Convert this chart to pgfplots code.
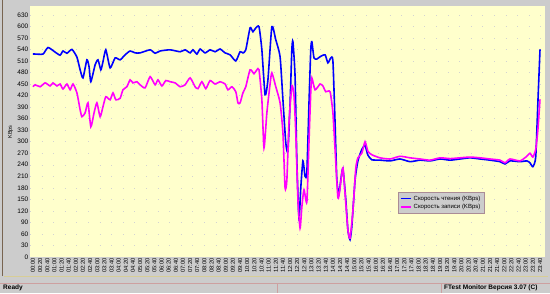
\documentclass[border=0pt]{standalone}
\usepackage{pgfplots}
\pgfplotsset{compat=1.18}
\usepackage{fontspec}
\setmainfont{Liberation Sans}
\definecolor{winbg}{RGB}{204,204,204}
\definecolor{plotbg}{RGB}{255,255,204}
\definecolor{rd}{RGB}{0,0,255}
\definecolor{wr}{RGB}{255,0,255}
\begin{document}
\begin{tikzpicture}[x=1pt,y=1pt]
\fill[winbg] (0pt,0pt) rectangle (550pt,293pt);
\draw[color={rgb,255:red,120;green,100;blue,80}, line width=1pt] (2.5pt,17pt) -- (2.5pt,293pt);
\draw[color={rgb,255:red,215;green,205;blue,150}, line width=0.8pt] (4pt,17pt) -- (548pt,17pt);
\draw[color={rgb,255:red,205;green,160;blue,160}, line width=0.6pt] (0pt,10pt) -- (550pt,10pt);
\draw[color={rgb,255:red,205;green,160;blue,160}, line width=0.6pt] (277pt,0pt) -- (277pt,10pt) (441pt,0pt) -- (441pt,10pt);
\begin{axis}[
  at={(30pt,36pt)}, anchor=south west, scale only axis,
  width=515pt, height=251pt,
  xmin=-8.4, xmax=1434, ymin=0, ymax=653,
  axis background/.style={fill=plotbg},
  axis line style={draw=none},
  major tick length=0pt,
  ymajorgrids, grid style={color=gray!35, line width=0.5pt, dash pattern=on 0.6pt off 11pt},
  ytick={0,30,...,630},
  /pgf/number format/assume math mode=true,
  yticklabel style={font=\fontsize{6.5}{7}\selectfont, inner sep=1.5pt},
  xtick={0,20,...,1420},
  xticklabels={00:00,00:20,00:40,01:00,01:20,01:40,02:00,02:20,02:40,03:00,03:20,03:40,04:00,04:20,04:40,05:00,05:20,05:40,06:00,06:20,06:40,07:00,07:20,07:40,08:00,08:20,08:40,09:00,09:20,09:40,10:00,10:20,10:40,11:00,11:20,11:40,12:00,12:20,12:40,13:00,13:20,13:40,14:00,14:20,14:40,15:00,15:20,15:40,16:00,16:20,16:40,17:00,17:20,17:40,18:00,18:20,18:40,19:00,19:20,19:40,20:00,20:20,20:40,21:00,21:20,21:40,22:00,22:20,22:40,23:00,23:20,23:40},
  xticklabel style={rotate=90, anchor=east, font=\fontsize{5.8}{6}\selectfont, inner sep=1pt},
  legend style={at={(0.7146,0.259)}, anchor=north west, fill=winbg, draw={rgb,255:red,170;green,140;blue,150},
    font=\fontsize{6}{6.5}\selectfont, inner xsep=2pt, inner ysep=1.5pt, row sep=-1.5pt, cells={anchor=west}},
  legend image code/.code={\draw[#1, line width=1.5pt] (0pt,0pt) -- (10pt,0pt);},
  clip=true,
]
\addplot[rd, line width=1.6pt, smooth, tension=0.35] coordinates {
(0,528)(6,528)(28,528)(42,545)(62,533)(76,525)(84,536)(95,530)(109,540)(123,520)
(132,487)(140,466)(151,513)(157,495)(162,456)(174,500)(182,513)(190,487)(196,508)(204,539)
(216,492)(230,518)(244,513)(258,526)(272,536)(286,531)(300,531)(328,539)(342,530)(356,536)
(384,539)(412,534)(426,539)(440,531)(448,539)(459,528)(468,541)(482,531)(496,539)(510,534)
(524,541)(538,531)(552,526)(568,510)(580,534)(588,531)(596,539)(608,596)(616,586)(624,596)
(633,599)(641,539)(650,422)(658,461)(669,599)(680,565)(692,521)(700,409)(708,297)(714,275)
(720,400)(725,540)(728,560)(734,470)(739,250)(745,100)(750,180)(756,250)(762,210)(767,220)
(773,400)(778,540)(781,560)(787,518)(795,515)(804,521)(818,526)(826,505)(834,518)(840,510)
(846,350)(851,200)(857,165)(862,200)(868,230)(876,150)(882,70)(888,45)(893,80)(902,200)
(910,250)(921,280)(930,290)(938,265)(949,253)(972,252)(1000,250)(1028,255)(1056,248)(1084,252)
(1112,250)(1140,255)(1168,252)(1196,255)(1224,258)(1252,255)(1280,252)(1308,248)(1322,242)(1336,250)
(1364,248)(1383,250)(1392,245)(1400,235)(1408,260)(1414,400)(1420,540)
};
\addlegendentry{Скорость чтения (KBps)\hspace{14pt}}
\addplot[wr, line width=1.6pt, smooth, tension=0.35] coordinates {
(0,443)(6,448)(20,443)(34,453)(48,445)(56,453)(67,445)(76,450)(84,437)(95,450)
(104,435)(112,450)(123,427)(132,383)(137,365)(146,375)(154,401)(162,339)(171,375)(179,401)
(188,365)(196,391)(204,417)(216,409)(224,427)(232,409)(244,413)(252,435)(263,443)(272,461)
(280,453)(291,456)(300,448)(314,440)(328,469)(342,448)(350,461)(361,445)(372,459)(384,456)
(398,453)(412,443)(426,448)(440,466)(454,443)(462,438)(473,456)(484,438)(496,459)(510,450)
(524,456)(538,450)(546,435)(557,443)(568,430)(574,401)(580,401)(588,427)(596,443)(608,487)
(619,477)(627,487)(633,487)(641,409)(647,284)(655,375)(664,450)(669,479)(680,443)(692,401)
(700,323)(706,180)(711,200)(717,350)(725,445)(731,420)(736,323)(742,150)(748,75)(753,130)
(759,175)(767,143)(773,300)(778,430)(781,466)(790,435)(804,450)(812,445)(820,430)(832,430)
(840,375)(846,280)(854,154)(860,180)(868,232)(876,140)(882,70)(888,49)(896,120)(904,230)
(910,258)(921,270)(930,300)(938,275)(949,266)(972,258)(1000,255)(1028,262)(1056,258)(1084,255)
(1112,252)(1140,258)(1168,256)(1196,258)(1224,260)(1252,258)(1280,255)(1308,252)(1322,245)(1336,255)
(1364,250)(1383,262)(1392,270)(1400,260)(1408,280)(1414,330)(1420,410)
};
\addlegendentry{Скорость записи (KBps)}
\end{axis}
\node[rotate=90, font=\fontsize{5.5}{6}\selectfont] at (10.5pt,161pt) {KBps};
\node[anchor=west, font=\bfseries\fontsize{6.5}{7}\selectfont, inner sep=0pt] at (3pt,5.5pt) {Ready};
\node[anchor=west, font=\bfseries\fontsize{6.5}{7}\selectfont, inner sep=0pt] at (444pt,5.5pt) {FTest Monitor Версия 3.07 (C)};
\pgfresetboundingbox
\useasboundingbox (0pt,0pt) rectangle (550pt,293pt);
\end{tikzpicture}
\end{document}
